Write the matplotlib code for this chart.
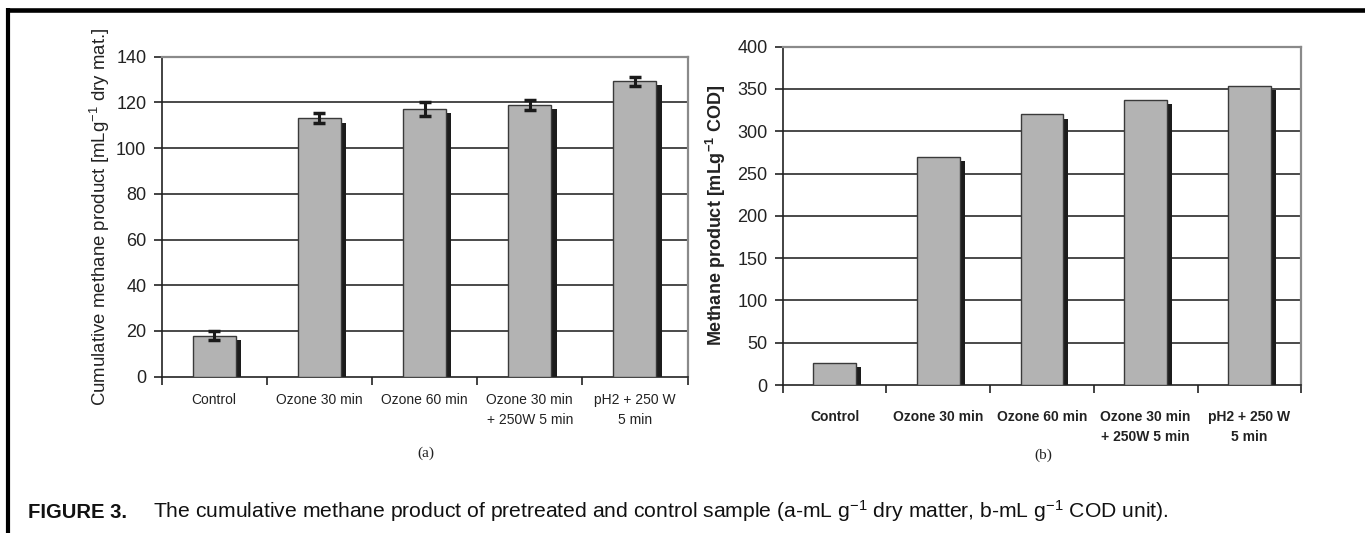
import matplotlib
matplotlib.use("Agg")
import matplotlib.pyplot as plt
from matplotlib.lines import Line2D

plt.rcParams['font.family'] = ['Liberation Sans', 'DejaVu Sans']
plt.rcParams['mathtext.fontset'] = 'custom'
plt.rcParams['mathtext.rm'] = 'Liberation Sans'
plt.rcParams['mathtext.it'] = 'Liberation Sans:italic'
plt.rcParams['mathtext.bf'] = 'Liberation Sans:bold'

# ---- data ----
categories = ["Control", "Ozone 30 min", "Ozone 60 min",
              "Ozone 30 min\n+ 250W 5 min", "pH2 + 250 W\n5 min"]
dry_matter = [18, 113, 117, 119, 129.3]
dry_matter_err = [2.0, 2.2, 3.0, 2.2, 2.0]
cod = [26, 270, 320, 337, 353.5]
yticks_a = [0, 20, 40, 60, 80, 100, 120, 140]
yticks_b = [0, 50, 100, 150, 200, 250, 300, 350, 400]

W, H = 1365, 533
fig = plt.figure(figsize=(W / 100, H / 100), dpi=100)

BAR = "#b3b3b3"
EDGE = "#3a3a3a"
SHADOW = "#1c1c1c"
GRID = "#4a4a4a"


def panel(rect, values, yticks, ylabel, bold, err=None, shadow_drop=1.8, xpad=11):
    ax = fig.add_axes(rect)
    n = len(values)
    x = list(range(n))
    ymax = yticks[-1]
    ax.set_xlim(-0.5, n - 0.5)
    ax.set_ylim(0, ymax)
    for t in yticks[1:-1]:
        ax.axhline(t, color=GRID, lw=1.4, zorder=0)
    ax.bar([xi + 0.05 for xi in x], [v - shadow_drop for v in values], width=0.41,
           color=SHADOW, edgecolor='none', zorder=2)
    ax.bar(x, values, width=0.41, color=BAR, edgecolor=EDGE, linewidth=1.0, zorder=3)
    if err is not None:
        ax.errorbar(x, values, yerr=err, fmt='none', ecolor="#1a1a1a",
                    elinewidth=2.2, capsize=4.5, capthick=2.5, zorder=4)
    ax.spines['left'].set_color('#222222')
    ax.spines['bottom'].set_color('#222222')
    ax.spines['left'].set_linewidth(1.2)
    ax.spines['bottom'].set_linewidth(1.2)
    ax.spines['top'].set_color('#8a8a8a')
    ax.spines['right'].set_color('#8a8a8a')
    ax.spines['top'].set_linewidth(1.6)
    ax.spines['right'].set_linewidth(1.6)
    ax.set_yticks(yticks)
    ax.set_yticklabels([str(t) for t in yticks], fontsize=13, color='#222222')
    ax.tick_params(axis='y', length=6, width=1.2, pad=5, color='#222222')
    ax.set_xticks([i - 0.5 for i in range(n + 1)])
    ax.set_xticklabels([])
    ax.set_xticks(x, minor=True)
    ax.set_xticklabels(categories, minor=True, fontsize=10,
                       fontweight='bold' if bold else 'normal', linespacing=1.55,
                       color='#222222')
    ax.tick_params(axis='x', which='major', length=6, width=1.2, color='#222222')
    ax.tick_params(axis='x', which='minor', length=0, pad=xpad)
    ax.set_ylabel(ylabel, fontsize=13.4 if not bold else 13,
                  fontweight='bold' if bold else 'normal', color='#222222')
    return ax


axa = panel([161.6 / W, 1 - 376.7 / H, (687.5 - 161.6) / W, (376.7 - 56.7) / H],
            dry_matter, yticks_a, r"Cumulative methane product [mLg$^{-1}$ dry mat.]",
            bold=False, err=dry_matter_err, shadow_drop=1.8, xpad=11.5)
axa.yaxis.set_label_coords(-0.095, 0.50)

axb = panel([782.7 / W, 1 - 385 / H, (1301.2 - 782.7) / W, (385 - 46.7) / H],
            cod, yticks_b, r"Methane product [mLg$^{\mathbf{-1}}$ COD]",
            bold=True, shadow_drop=5, xpad=18)
axb.yaxis.set_label_coords(-0.105, 0.5)

# sub-captions
fig.text(426 / W, 1 - 453 / H, "(a)", ha='center', va='center',
         fontsize=11, family=['Liberation Serif', 'DejaVu Serif'], color='#222222')
fig.text(1043 / W, 1 - 455 / H, "(b)", ha='center', va='center',
         fontsize=11, family=['Liberation Serif', 'DejaVu Serif'], color='#222222')

# caption
cap_y = 1 - 518 / H
fig.text(28 / W, cap_y, "FIGURE 3.", ha='left', va='baseline',
         fontsize=14.6, fontweight='bold', color='#111111')
fig.text(153 / W, cap_y, "The cumulative methane product of pretreated and control sample "
         r"(a-mL g$^{-1}$ dry matter, b-mL g$^{-1}$ COD unit).",
         ha='left', va='baseline', fontsize=15.2, color='#111111')

# border lines
fig.add_artist(Line2D([6 / W, 1], [1 - 10.3 / H, 1 - 10.3 / H], transform=fig.transFigure,
                      color='black', lw=3.3, solid_capstyle='butt'))
fig.add_artist(Line2D([8 / W, 8 / W], [0, 1 - 8 / H], transform=fig.transFigure,
                      color='black', lw=3.0, solid_capstyle='butt'))

fig.savefig("out.png", dpi=100)
